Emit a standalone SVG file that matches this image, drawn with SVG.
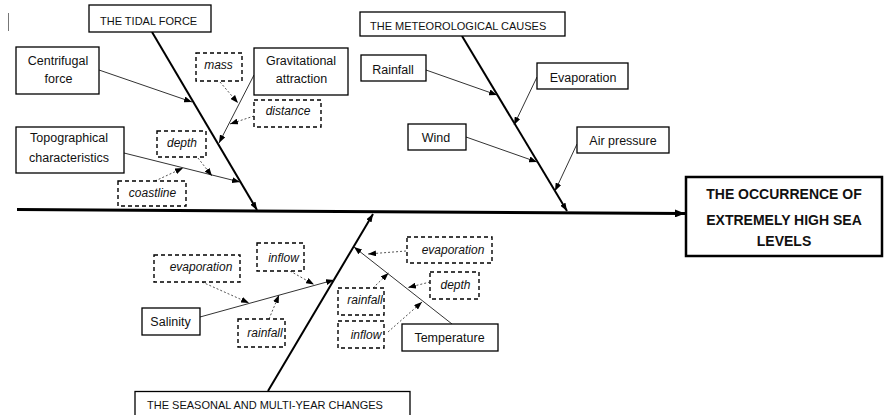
<svg xmlns="http://www.w3.org/2000/svg" width="884" height="415" viewBox="0 0 884 415">
<defs>
<style>
.box{fill:#fff;stroke:#000;stroke-width:1.3}
.dbox{fill:#fff;stroke:#000;stroke-width:1.4;stroke-dasharray:4 3}
.ebox{fill:#fff;stroke:#000;stroke-width:2.5}
.t{font-family:"Liberation Sans",Arial,sans-serif;font-size:12.5px;fill:#111;text-anchor:middle}
.it{font-family:"Liberation Sans",Arial,sans-serif;font-size:12px;font-style:italic;fill:#111;text-anchor:middle}
.cap{font-family:"Liberation Sans",Arial,sans-serif;font-size:11px;fill:#111}
.eff{font-family:"Liberation Sans",Arial,sans-serif;font-size:14px;font-weight:bold;fill:#111;text-anchor:middle}
.bone{stroke:#000;stroke-width:2;fill:none}
.spine{stroke:#000;stroke-width:3;fill:none}
.sub{stroke:#333;stroke-width:1;fill:none}
.dash{stroke:#555;stroke-width:1;stroke-dasharray:2 2;fill:none}
</style>
<marker id="ah" viewBox="0 0 8 6" refX="8" refY="3" markerWidth="8" markerHeight="6" markerUnits="userSpaceOnUse" orient="auto"><path d="M0,0 L8,3 L0,6 z" fill="#000"/></marker>
<marker id="ahb" viewBox="0 0 10 8" refX="10" refY="4" markerWidth="10" markerHeight="8" markerUnits="userSpaceOnUse" orient="auto"><path d="M0,0 L10,4 L0,8 z" fill="#000"/></marker>
</defs>
<rect width="884" height="415" fill="#fff"/>
<line x1="8.5" y1="13" x2="8.5" y2="31" stroke="#777" stroke-width="1"/>

<g id="connectors">
<line class="spine" x1="17" y1="209.5" x2="685" y2="213.5" marker-end="url(#ahb)"/>
<line class="bone" x1="152" y1="32" x2="257" y2="210" marker-end="url(#ah)"/>
<line class="bone" x1="462" y1="36" x2="567" y2="211" marker-end="url(#ah)"/>
<line class="bone" x1="268" y1="391" x2="373" y2="214" marker-end="url(#ah)"/>
<line class="sub" x1="99" y1="70" x2="192" y2="102" marker-end="url(#ah)"/>
<line class="sub" x1="254" y1="75" x2="219" y2="143" marker-end="url(#ah)"/>
<line class="sub" x1="124" y1="153" x2="240" y2="182" marker-end="url(#ah)"/>
<line class="dash" x1="220" y1="82" x2="238" y2="103" marker-end="url(#ah)"/>
<line class="dash" x1="254" y1="116" x2="230" y2="124" marker-end="url(#ah)"/>
<line class="dash" x1="198" y1="158" x2="212" y2="176" marker-end="url(#ah)"/>
<line class="dash" x1="155" y1="181" x2="183" y2="168" marker-end="url(#ah)"/>
<line class="sub" x1="426" y1="70" x2="497" y2="95" marker-end="url(#ah)"/>
<line class="sub" x1="537" y1="77" x2="514" y2="125" marker-end="url(#ah)"/>
<line class="sub" x1="466" y1="137" x2="537" y2="162" marker-end="url(#ah)"/>
<line class="sub" x1="577" y1="144" x2="555" y2="191" marker-end="url(#ah)"/>
<line class="sub" x1="200" y1="317" x2="334" y2="280" marker-end="url(#ah)"/>
<line class="dash" x1="202" y1="282" x2="249" y2="303" marker-end="url(#ah)"/>
<line class="dash" x1="269" y1="319" x2="279" y2="295" marker-end="url(#ah)"/>
<line class="dash" x1="290" y1="271" x2="314" y2="284.5" marker-end="url(#ah)"/>
<line class="sub" x1="452" y1="324" x2="354" y2="247" marker-end="url(#ah)"/>
<line class="dash" x1="406" y1="251" x2="368" y2="254" marker-end="url(#ah)"/>
<line class="dash" x1="430" y1="282" x2="408" y2="287.5" marker-end="url(#ah)"/>
<line class="dash" x1="373" y1="288" x2="388.5" y2="273" marker-end="url(#ah)"/>
<line class="dash" x1="388" y1="332" x2="422" y2="302" marker-end="url(#ah)"/>
</g>

<g id="tidal-force"><rect class="box" x="89" y="5" width="122" height="27"/><text class="cap" x="100" y="25">THE TIDAL FORCE</text></g>
<g id="centrifugal"><rect class="box" x="16" y="47" width="83" height="47"/><text class="t" x="58" y="65">Centrifugal</text><text class="t" x="58.5" y="83">force</text></g>
<g id="gravitational"><rect class="box" x="254" y="48" width="94" height="47"/><text class="t" x="301" y="65">Gravitational</text><text class="t" x="301.5" y="83">attraction</text></g>
<g id="mass"><rect class="dbox" x="196" y="53" width="46" height="28"/><text class="it" x="218.5" y="69">mass</text></g>
<g id="distance"><rect class="dbox" x="254" y="100" width="67" height="27"/><text class="it" x="288" y="115">distance</text></g>
<g id="topographical"><rect class="box" x="16" y="127" width="108" height="46"/><text class="t" x="69" y="142">Topographical</text><text class="t" x="69" y="162">characteristics</text></g>
<g id="depth-1"><rect class="dbox" x="157" y="131" width="49" height="26"/><text class="it" x="182" y="147">depth</text></g>
<g id="coastline"><rect class="dbox" x="118" y="181" width="68" height="25"/><text class="it" x="152.5" y="197">coastline</text></g>

<g id="meteorological"><rect class="box" x="360" y="12" width="205" height="24"/><text class="cap" x="370" y="29.5">THE METEOROLOGICAL CAUSES</text></g>
<g id="rainfall-m"><rect class="box" x="361" y="55" width="65" height="26"/><text class="t" x="393" y="73.5">Rainfall</text></g>
<g id="evaporation-m"><rect class="box" x="537" y="63" width="91" height="26"/><text class="t" x="583" y="81.5">Evaporation</text></g>
<g id="wind"><rect class="box" x="408" y="124" width="58" height="26"/><text class="t" x="436" y="141.5">Wind</text></g>
<g id="air-pressure"><rect class="box" x="577" y="127" width="92" height="26"/><text class="t" x="623" y="145">Air pressure</text></g>

<g id="effect"><rect class="ebox" x="686" y="177" width="196" height="79"/><text class="eff" x="784" y="199">THE OCCURRENCE OF</text><text class="eff" x="784" y="225">EXTREMELY HIGH SEA</text><text class="eff" x="784" y="246">LEVELS</text></g>

<g id="seasonal"><rect class="box" x="135" y="391.5" width="275" height="30"/><text class="cap" x="147" y="408.5">THE SEASONAL AND MULTI-YEAR CHANGES</text></g>
<g id="salinity"><rect class="box" x="142" y="308" width="58" height="27"/><text class="t" x="170.5" y="326">Salinity</text></g>
<g id="evaporation-s"><rect class="dbox" x="154" y="255" width="86" height="27"/><text class="it" x="201" y="271">evaporation</text></g>
<g id="inflow-s"><rect class="dbox" x="257" y="243" width="47" height="28"/><text class="it" x="283.5" y="262">inflow</text></g>
<g id="rainfall-s"><rect class="dbox" x="238" y="319" width="47" height="28"/><text class="it" x="265" y="337">rainfall</text></g>
<g id="temperature"><rect class="box" x="402" y="324" width="96" height="27"/><text class="t" x="449.5" y="342">Temperature</text></g>
<g id="evaporation-t"><rect class="dbox" x="407" y="237" width="85" height="26"/><text class="it" x="453" y="253.5">evaporation</text></g>
<g id="depth-2"><rect class="dbox" x="430" y="272" width="49" height="27"/><text class="it" x="455.5" y="288.5">depth</text></g>
<g id="rainfall-t"><rect class="dbox" x="338" y="288" width="46" height="27"/><text class="it" x="365" y="303.5">rainfall</text></g>
<g id="inflow-t"><rect class="dbox" x="338" y="321" width="46" height="27"/><text class="it" x="366" y="338.5">inflow</text></g>
</svg>
